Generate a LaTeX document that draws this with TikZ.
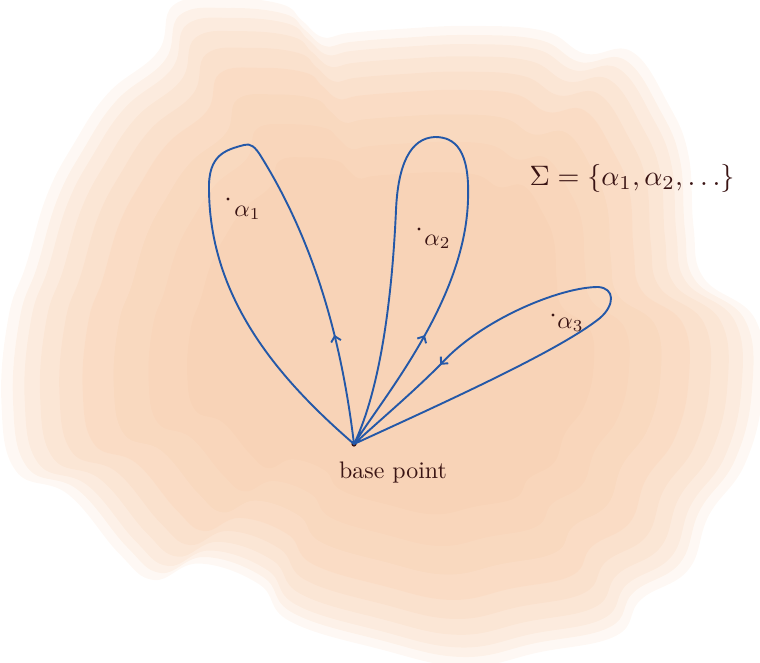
\documentclass[tikz,border=0pt]{standalone}
\usetikzlibrary{arrows.meta,decorations.markings}

\begin{document}
\begin{tikzpicture}[
    x=0.5mm,
    y=-0.5mm,
    line cap=round,
    line join=round
]

\definecolor{WashPeach}{HTML}{F5BE93}
\definecolor{LoopBlue}{HTML}{2458A8}
\definecolor{InkBrown}{HTML}{3A1414}

\tikzset{
    wash/.style={
        fill=WashPeach,
        opacity=#1,
        draw=none
    },
    loop path/.style={
        draw=LoopBlue,
        line width=0.95mm
    },
    loop arrow/.style={
        postaction={decorate},
        decoration={markings,
            mark=at position #1 with {\arrow[LoopBlue,line width=0.95mm]{Straight Barb[length=2.6mm,width=5mm]}}}
    },
    point dot/.style={
        circle,
        fill=InkBrown,
        draw=none,
        minimum size=#1,
        inner sep=0pt
    },
    point label/.style={
        text=InkBrown,
        inner sep=0pt,
        scale=3.4
    },
    ink text/.style={
        text=InkBrown,
        inner sep=0pt,
        scale=#1
    }
}

\useasboundingbox (0,0) rectangle (760,662);

\foreach \s/\o in {1.03/0.10,1.00/0.12,0.97/0.12,0.93/0.12,0.88/0.12,0.82/0.12,0.74/0.12,0.65/0.10,0.55/0.10} {
    \begin{scope}[shift={(400,340)},scale=\s,shift={(-400,-340)}]
        \fill[wash=\o] plot[smooth cycle,tension=0.7] coordinates {
            (180,15) (230,8) (285,14) (305,30) (325,46) (350,42) (400,38)
            (470,35) (540,40) (580,62) (625,60) (660,110) (680,160)
            (685,230) (695,280) (745,320) (752,390) (735,460) (700,510)
            (680,563) (634,592) (610,627) (536,643) (463,657) (380,640)
            (293,613) (263,577) (205,557) (161,573) (127,547) (78,490)
            (27,467) (13,400) (20,317) (37,267) (57,200) (83,150)
            (117,100) (165,60)};
    \end{scope}
}

\node[point dot=2.6mm] (base) at (354,444) {};
\node[ink text=3.4, anchor=north] (baselabel) at (393,461) {base point};

\draw[loop path, loop arrow=0.16] (base.center)
    .. controls (345,370) and (325,260) .. (262,158)
    .. controls (255,146) and (250,143) .. (244,145)
    .. controls (225,150) and (208,155) .. (209,190)
    .. controls (210,300) and (280,380) .. (base.center);

\draw[loop path, loop arrow=0.19] (base.center)
    .. controls (385,395) and (465,300) .. (468,200)
    .. controls (470,150) and (455,137) .. (435,137)
    .. controls (410,138) and (398,165) .. (396,210)
    .. controls (392,300) and (380,390) .. (base.center);

\draw[loop path, loop arrow=0.81] (base.center)
    .. controls (450,400) and (560,350) .. (600,318)
    .. controls (615,305) and (615,288) .. (598,287)
    .. controls (560,287) and (480,320) .. (440,365)
    .. controls (410,395) and (380,420) .. (base.center);

\node[point dot=1.7mm] (a1) at (228,199) {};
\node[point dot=1.7mm] (a2) at (419,229) {};
\node[point dot=1.7mm] (a3) at (553,315) {};

\node[point label, anchor=west] (a1label) at (234,213) {$\alpha_1$};
\node[point label, anchor=west] (a2label) at (424,242) {$\alpha_2$};
\node[point label, anchor=west] (a3label) at (557,325) {$\alpha_3$};

\node[ink text=4] (sigmaset) at (632,178) {$\Sigma = \{\alpha_1, \alpha_2, \dots\}$};

\end{tikzpicture}
\end{document}
